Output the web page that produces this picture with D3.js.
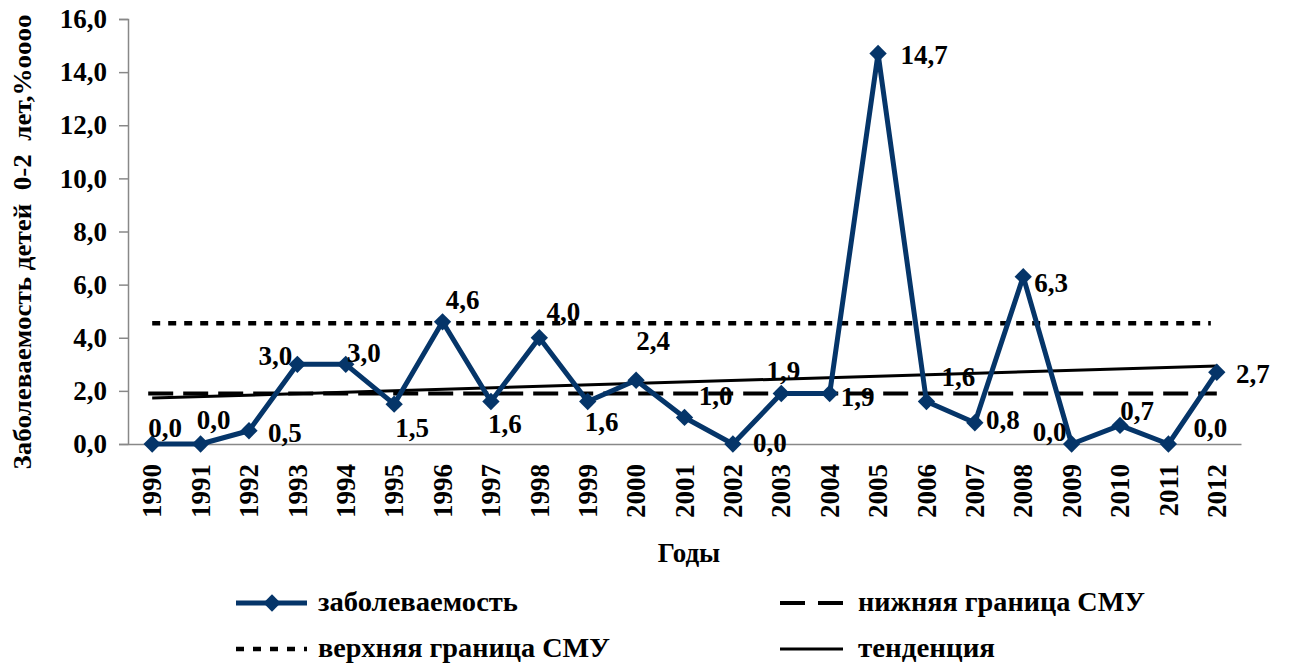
<!DOCTYPE html>
<html><head><meta charset="utf-8">
<script src="https://cdn.jsdelivr.net/npm/d3@7"></script>
</head>
<body style="margin:0;background:#fff">
<svg id="chart" width="1291" height="666" style="font-family:'Liberation Serif';font-weight:bold"></svg>
<script>
// ---- data ----
const years = ["1990","1991","1992","1993","1994","1995","1996","1997","1998","1999","2000","2001","2002","2003","2004","2005","2006","2007","2008","2009","2010","2011","2012"];
const incidence = [0.0,0.0,0.5,3.0,3.0,1.5,4.6,1.6,4.0,1.6,2.4,1.0,0.0,1.9,1.9,14.7,1.6,0.8,6.3,0.0,0.7,0.0,2.7];
const lowerSMU = 1.9;
const upperSMU = 4.55;
const trendEnds = [1.73, 2.94];
const yTicks = [0,2,4,6,8,10,12,14,16];
const seriesNames = ["заболеваемость","нижняя граница СМУ","верхняя граница СМУ","тенденция"];
const xTitle = "Годы";
const yTitle = "Заболеваемость детей  0-2  лет,%oooo";
// label placement offsets (px) relative to each point
const labelDx = [13,13,36,-22,18,18,20,14,24,14,17,31,37,2,28,46,32,28,28,-22,17,42,36];
const labelDy = [-16,-24,2,-9,-12,23,-22,22,-26,20,-40,-22,-1,-23,3,1,-25,-3,6,-12,-15,-16,1];

// ---- layout ----
const navy = "#053569";
const svg = d3.select("#chart");
const x = d3.scaleBand().domain(years).range([128,1241]).paddingInner(0).paddingOuter(0);
const cx = d => x(d) + x.bandwidth()/2;
const y = d3.scaleLinear().domain([0,16]).range([444,19]);
const fmt = v => v.toFixed(1).replace(".", ",");
const txt = sel => sel.attr("font-family","Liberation Serif").attr("font-weight","bold").attr("fill","#000")
  .style("font-family","'Liberation Serif'").style("font-weight","bold");

// y axis
const yAxis = svg.append("g").attr("transform","translate(128,0)")
  .call(d3.axisLeft(y).tickValues(yTicks).tickFormat(fmt).tickSize(9).tickPadding(12));
yAxis.attr("font-family","Liberation Serif").attr("font-size",27);
yAxis.select(".domain").attr("stroke","#888").attr("stroke-width",1.5);
yAxis.selectAll(".tick line").attr("stroke","#888").attr("stroke-width",1.5);
yAxis.selectAll(".tick text").call(txt).attr("font-size",27);

// x axis baseline
const xAxis = svg.append("g").attr("transform","translate(0,444)")
  .call(d3.axisBottom(x).tickSize(0).tickFormat(""));
xAxis.select(".domain").attr("stroke","#888").attr("stroke-width",1.5);
xAxis.selectAll(".tick").remove();

// x labels (rotated)
svg.append("g").selectAll("text").data(years).join("text")
  .attr("transform", d => `translate(${cx(d)},464) rotate(-90)`)
  .attr("text-anchor","end").attr("dy","0.34em")
  .attr("font-size",27).call(txt).text(d => d);

// axis titles
svg.append("text").attr("x",689).attr("y",562).attr("text-anchor","middle")
  .attr("font-size",27).call(txt).text(xTitle);
svg.append("text").attr("transform","translate(22,242) rotate(-90)")
  .attr("text-anchor","middle").attr("dy","0.35em").attr("font-size",25).call(txt)
  .attr("textLength",455).attr("lengthAdjust","spacingAndGlyphs")
  .style("white-space","pre").text(yTitle);

// trend line
svg.append("line")
  .attr("x1",cx(years[0])).attr("x2",cx(years[years.length-1]))
  .attr("y1",y(trendEnds[0])).attr("y2",y(trendEnds[1]))
  .attr("stroke","#000").attr("stroke-width",3);
// lower SMU
svg.append("line")
  .attr("x1",cx(years[0])-4).attr("x2",cx(years[years.length-1]))
  .attr("y1",y(lowerSMU)).attr("y2",y(lowerSMU))
  .attr("stroke","#000").attr("stroke-width",4).attr("stroke-dasharray","25,10");
// upper SMU
svg.append("line")
  .attr("x1",cx(years[0])).attr("x2",cx(years[years.length-1])-6)
  .attr("y1",y(upperSMU)).attr("y2",y(upperSMU))
  .attr("stroke","#000").attr("stroke-width",4.5).attr("stroke-dasharray","8,8");

// series
const pts = years.map((yr,i)=>({yr, v: incidence[i], i}));
svg.append("path").datum(pts)
  .attr("d", d3.line().x(d=>cx(d.yr)).y(d=>y(d.v)))
  .attr("fill","none").attr("stroke",navy).attr("stroke-width",5).attr("stroke-linejoin","round");
svg.append("g").selectAll("path").data(pts).join("path")
  .attr("d", d3.symbol().type(d3.symbolSquare).size(150))
  .attr("transform", d => `translate(${cx(d.yr)},${y(d.v)}) rotate(45)`)
  .attr("fill",navy);

// data labels
svg.append("g").selectAll("text").data(pts).join("text")
  .attr("x", d => cx(d.yr) + labelDx[d.i])
  .attr("y", d => y(d.v) + labelDy[d.i])
  .attr("text-anchor","middle").attr("dy","0.35em")
  .attr("font-size",27).call(txt)
  .text(d => fmt(d.v));

// legend
const lg = svg.append("g");
lg.append("line").attr("x1",236).attr("x2",307).attr("y1",603).attr("y2",603)
  .attr("stroke",navy).attr("stroke-width",5);
lg.append("path").attr("d", d3.symbol().type(d3.symbolSquare).size(150))
  .attr("transform","translate(272,603) rotate(45)").attr("fill",navy);
lg.append("text").attr("x",318).attr("y",611).attr("font-size",27).call(txt)
  .attr("textLength",200).attr("lengthAdjust","spacingAndGlyphs").text(seriesNames[0]);
lg.append("line").attr("x1",780).attr("x2",843).attr("y1",603).attr("y2",603)
  .attr("stroke","#000").attr("stroke-width",4).attr("stroke-dasharray","25,13");
lg.append("text").attr("x",858).attr("y",611).attr("font-size",27).call(txt)
  .attr("textLength",287).attr("lengthAdjust","spacingAndGlyphs").text(seriesNames[1]);
lg.append("line").attr("x1",236).attr("x2",307).attr("y1",649).attr("y2",649)
  .attr("stroke","#000").attr("stroke-width",4.5).attr("stroke-dasharray","8,9");
lg.append("text").attr("x",318).attr("y",657).attr("font-size",27).call(txt)
  .attr("textLength",292).attr("lengthAdjust","spacingAndGlyphs").text(seriesNames[2]);
lg.append("line").attr("x1",780).attr("x2",843).attr("y1",649).attr("y2",649)
  .attr("stroke","#000").attr("stroke-width",3);
lg.append("text").attr("x",858).attr("y",657).attr("font-size",27).call(txt)
  .attr("textLength",137).attr("lengthAdjust","spacingAndGlyphs").text(seriesNames[3]);
</script>
</body></html>
